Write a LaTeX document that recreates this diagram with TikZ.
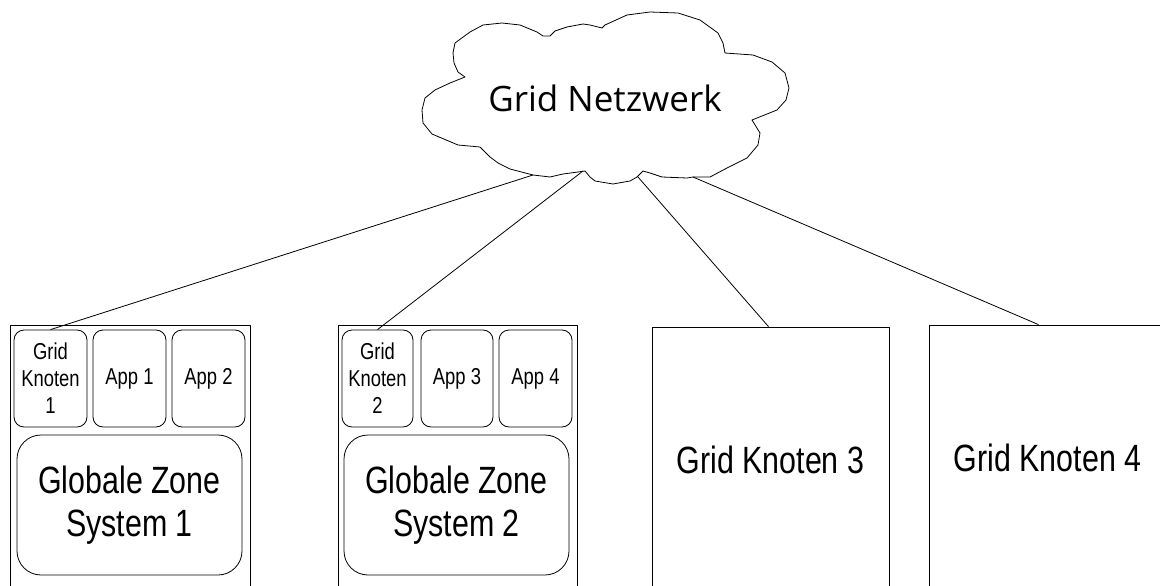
\documentclass[tikz,border=0pt]{standalone}
\usepackage{fontspec}
\setmainfont{Liberation Sans}
\newfontfamily\narrowfont[FakeStretch=0.8]{Liberation Sans}
\newfontfamily\cloudfont{Open Sans}
\usetikzlibrary{calc}
\tikzset{
  sysbox/.style={draw, rectangle, inner sep=0pt, minimum width=#1, minimum height=270pt},
  knotbox/.style={draw, rectangle, inner sep=0pt, minimum width=237pt, minimum height=266pt,
    font=\narrowfont\fontsize{38}{43}\selectfont},
  appbox/.style={draw, rounded corners=10pt, inner sep=0pt, minimum height=97pt, minimum width=#1,
    align=center, font=\narrowfont\fontsize{23}{27}\selectfont},
  zonebox/.style={draw, rounded corners=24pt, inner sep=0pt, minimum width=225pt, minimum height=140pt,
    align=center, font=\narrowfont\fontsize{38}{43}\selectfont},
  link/.style={draw, line width=0.8pt},
}
\begin{document}
\begin{tikzpicture}[x=1pt,y=-1pt,line width=0.8pt,line join=round]
\useasboundingbox (0,0) rectangle (1160,586);
\clip (0,0) rectangle (1160,586);
% cloud
\draw (455,43) -- (470,32) -- (483,25) -- (502,23) -- (520,25) -- (537,32) -- (543,36) -- (550,36)
 -- (555,31) -- (567,27) -- (583,24) -- (590,25) -- (602,28) -- (605,25) -- (627,15) -- (650,12)
 -- (678,13) -- (700,20) -- (718,33) -- (723,43) -- (725,53) -- (753,55) -- (772,62) -- (785,73)
 -- (789,88) -- (786,100) -- (777,110) -- (752,120) -- (760,133) -- (758,145) -- (747,158)
 -- (727,168) -- (710,177) -- (693,177) -- (687,178) -- (662,177) -- (650,173) -- (643,171)
 -- (637,177) -- (630,181) -- (613,184) -- (595,181) -- (590,177) -- (585,171) -- (578,172)
 -- (563,174) -- (550,177) -- (533,175) -- (510,169) -- (498,163) -- (490,157) -- (480,147)
 -- (458,145) -- (432,134) -- (423,123) -- (422,110) -- (425,98) -- (435,90) -- (450,83)
 -- (465,77) -- (458,72) -- (454,63) -- (453,53) -- cycle;
\node[font=\cloudfont\fontsize{35}{40}\selectfont] (net) at (605,98) {Grid Netzwerk};
\coordinate (c1) at (533,175);
\coordinate (c2) at (583,171);
\coordinate (c3) at (638,177);
\coordinate (c4) at (693,177);
% system 1
\node[sysbox=240pt] (sys1) at (130.5,460) {};
\node[appbox=73pt] (gk1) at (50.5,378.5) {Grid\\Knoten\\1};
\node[appbox=73pt] (app1) at (129.5,378.5) {App 1};
\node[appbox=73pt] (app2) at (208.5,378.5) {App 2};
\node[zonebox] (gz1) at (129.5,505) {Globale Zone\\System 1};
% system 2
\node[sysbox=239pt] (sys2) at (457.5,460) {};
\node[appbox=71pt] (gk2) at (377.5,378.5) {Grid\\Knoten\\2};
\node[appbox=72pt] (app3) at (457,378.5) {App 3};
\node[appbox=73pt] (app4) at (535.5,378.5) {App 4};
\node[zonebox] (gz2) at (456.5,505) {Globale Zone\\System 2};
% nodes 3, 4
\node[knotbox] (k3) at (770.5,460) {Grid Knoten 3};
\node[knotbox] (k4) at (1047.5,458) {Grid Knoten 4};
% connectors
\draw[link] (c1) -- (gk1.north);
\draw[link] (c2) -- (gk2.north);
\draw[link] (c3) -- ($(k3.north)+(-2,0)$);
\draw[link] (c4) -- ($(k4.north)+(-9,0)$);
\end{tikzpicture}
\end{document}
